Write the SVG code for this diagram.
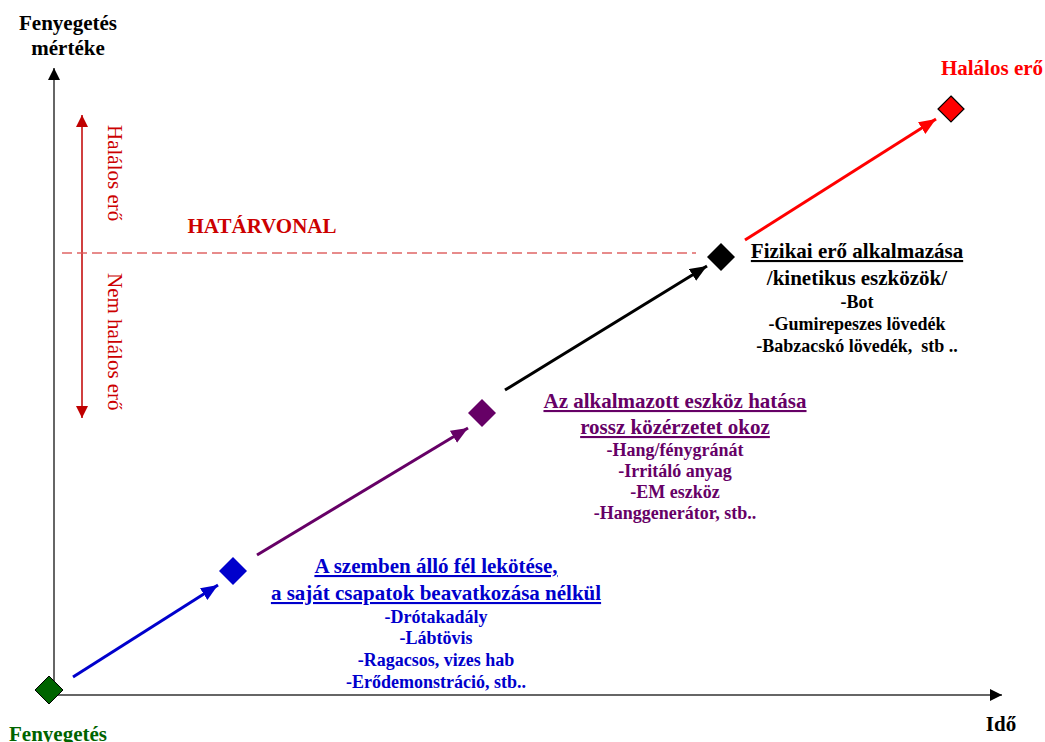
<svg xmlns="http://www.w3.org/2000/svg" width="1045" height="742" viewBox="0 0 1045 742">
<style>
text{font-family:"Liberation Serif","Times New Roman",serif;}
.b{font-weight:bold;}
.t{font-size:21px;font-weight:bold;text-anchor:middle;}
.i{font-size:18px;font-weight:bold;text-anchor:middle;}
.u{text-decoration:underline;}
.ax{stroke:#333;stroke-width:1.5;fill:none;}
.cn{stroke-width:3;fill:none;}
</style>
<defs>
<marker id="ah" markerUnits="userSpaceOnUse" markerWidth="14" markerHeight="14" refX="12" refY="6" orient="auto"><path d="M0,0 L12,6 L0,12 Z" fill="#000"/></marker>
<marker id="rh" markerUnits="userSpaceOnUse" markerWidth="14" markerHeight="14" refX="12" refY="6" orient="auto-start-reverse"><path d="M0,0 L12,6 L0,12 Z" fill="#c00000"/></marker>
<marker id="mb" markerUnits="userSpaceOnUse" markerWidth="20" markerHeight="16" refX="17" refY="7" orient="auto"><path d="M0,0 L17,7 L0,14 Z" fill="#0000cc"/></marker>
<marker id="mp" markerUnits="userSpaceOnUse" markerWidth="20" markerHeight="16" refX="17" refY="7" orient="auto"><path d="M0,0 L17,7 L0,14 Z" fill="#660066"/></marker>
<marker id="mk" markerUnits="userSpaceOnUse" markerWidth="20" markerHeight="16" refX="17" refY="7" orient="auto"><path d="M0,0 L17,7 L0,14 Z" fill="#000"/></marker>
<marker id="mr" markerUnits="userSpaceOnUse" markerWidth="20" markerHeight="16" refX="17" refY="7" orient="auto"><path d="M0,0 L17,7 L0,14 Z" fill="#ff0000"/></marker>
</defs>

<g id="axes">
<line class="ax" x1="54" y1="695" x2="54" y2="68" marker-end="url(#ah)"/>
<line class="ax" x1="54" y1="695" x2="1002" y2="695" marker-end="url(#ah)"/>
<text class="b" x="68" y="30" font-size="21" text-anchor="middle">Fenyegetés</text>
<text class="b" x="68" y="55" font-size="21" text-anchor="middle">mértéke</text>
<text class="b" x="1001" y="731" font-size="21" text-anchor="middle">Idő</text>
</g>

<g id="boundary">
<line x1="82" y1="254" x2="82" y2="115" stroke="#c00000" stroke-width="1.5" marker-end="url(#rh)"/>
<line x1="82" y1="252" x2="82" y2="418" stroke="#c00000" stroke-width="1.5" marker-end="url(#rh)"/>
<line x1="62" y1="253" x2="696" y2="253" stroke="#e06666" stroke-width="1.5" stroke-dasharray="10,5"/>
<text x="108" y="125" font-size="21" fill="#cc0000" transform="rotate(90 108 125)">Halálos erő</text>
<text x="108" y="273" font-size="21" fill="#cc0000" transform="rotate(90 108 273)">Nem halálos erő</text>
<text class="b" x="262" y="233" font-size="21" fill="#cc0000" text-anchor="middle">HATÁRVONAL</text>
</g>

<g id="connectors">
<line class="cn" stroke="#0000cc" x1="73" y1="677" x2="218" y2="585" marker-end="url(#mb)"/>
<line class="cn" stroke="#660066" x1="257" y1="555" x2="468" y2="428" marker-end="url(#mp)"/>
<line class="cn" stroke="#000" x1="505" y1="390" x2="707" y2="266" marker-end="url(#mk)"/>
<line class="cn" stroke="#ff0000" x1="745" y1="240" x2="936" y2="119" marker-end="url(#mr)"/>
</g>

<g id="node-start">
<path d="M49,676 L63,690 L49,704 L35,690 Z" fill="#006400" stroke="#000" stroke-width="1"/>
<text class="b" x="58" y="741" font-size="21" fill="#006400" text-anchor="middle">Fenyegetés</text>
</g>

<g id="node-blue">
<path d="M233,557 L247,571 L233,585 L219,571 Z" fill="#0000cc"/>
<g fill="#0000cc">
<text class="t u" x="436" y="573">A szemben álló fél lekötése,</text>
<text class="t u" x="436" y="600">a saját csapatok beavatkozása nélkül</text>
<text class="i" x="436" y="623">-Drótakadály</text>
<text class="i" x="436" y="644">-Lábtövis</text>
<text class="i" x="436" y="666">-Ragacsos, vizes hab</text>
<text class="i" x="436" y="688">-Erődemonstráció, stb..</text>
</g>
</g>

<g id="node-purple">
<path d="M482,399 L496,413 L482,427 L468,413 Z" fill="#660066"/>
<g fill="#660066">
<text class="t u" x="675" y="408">Az alkalmazott eszköz hatása</text>
<text class="t u" x="675" y="434">rossz közérzetet okoz</text>
<text class="i" x="675" y="456">-Hang/fénygránát</text>
<text class="i" x="675" y="477">-Irritáló anyag</text>
<text class="i" x="675" y="498">-EM eszköz</text>
<text class="i" x="675" y="519">-Hanggenerátor, stb..</text>
</g>
</g>

<g id="node-black">
<path d="M721,243 L735,257 L721,271 L707,257 Z" fill="#000"/>
<g fill="#000">
<text class="t u" x="857" y="258">Fizikai erő alkalmazása</text>
<text class="t" x="857" y="285">/kinetikus eszközök/</text>
<text class="i" x="857" y="308">-Bot</text>
<text class="i" x="857" y="330">-Gumirepeszes lövedék</text>
<text class="i" x="857" y="352" xml:space="preserve">-Babzacskó lövedék,  stb ..</text>
</g>
</g>

<g id="node-red">
<path d="M951,96 L964,109 L951,122 L938,109 Z" fill="#ff0000" stroke="#000" stroke-width="1.2"/>
<text class="b" x="992" y="75" font-size="21" fill="#ff0000" text-anchor="middle">Halálos erő</text>
</g>
</svg>
